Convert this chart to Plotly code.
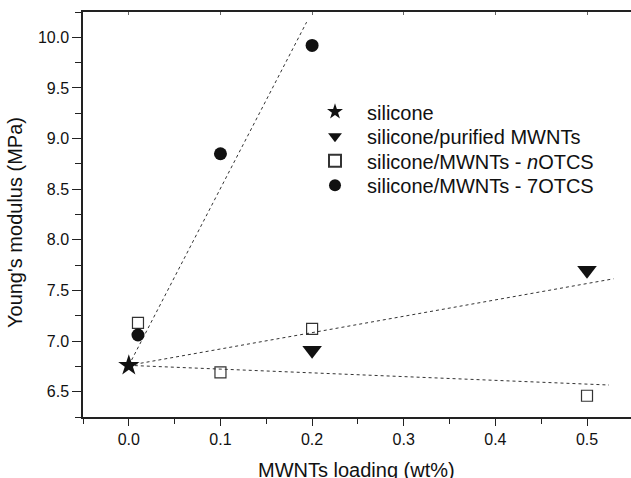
import plotly.graph_objects as go

# ---- data ----
silicone_x = [0.0]
silicone_y = [6.76]

purified_x = [0.2, 0.5]
purified_y = [6.91, 7.70]

notcs_x = [0.01, 0.1, 0.2, 0.5]
notcs_y = [7.18, 6.69, 7.12, 6.46]

otcs7_x = [0.01, 0.1, 0.2]
otcs7_y = [7.06, 8.85, 9.92]

# fitted trend lines (end points)
fit_7otcs_x = [0.0, 0.194]
fit_7otcs_y = [6.76, 10.15]
fit_purified_x = [0.0, 0.529]
fit_purified_y = [6.76, 7.615]
fit_notcs_x = [0.0, 0.524]
fit_notcs_y = [6.76, 6.566]

x_tick_vals = [0.0, 0.1, 0.2, 0.3, 0.4, 0.5]
x_tick_text = ["0.0", "0.1", "0.2", "0.3", "0.4", "0.5"]
y_tick_vals = [6.5, 7.0, 7.5, 8.0, 8.5, 9.0, 9.5, 10.0]
y_tick_text = ["6.5", "7.0", "7.5", "8.0", "8.5", "9.0", "9.5", "10.0"]

legend_names = ["silicone", "silicone/purified MWNTs",
                "silicone/MWNTs - <i>n</i>OTCS", "silicone/MWNTs - 7OTCS"]

FONT = "Liberation Sans, Arial, Helvetica, sans-serif"
INK = "#111111"
AX = "#222222"

fig = go.Figure()

line_style = dict(color="#333333", width=1, dash="dot")
for fx, fy in [(fit_7otcs_x, fit_7otcs_y), (fit_purified_x, fit_purified_y),
               (fit_notcs_x, fit_notcs_y)]:
    fig.add_trace(go.Scatter(x=fx, y=fy, mode="lines", line=line_style,
                             showlegend=False, hoverinfo="skip"))

fig.add_trace(go.Scatter(x=silicone_x, y=silicone_y, mode="markers",
                         name=legend_names[0], legend="legend",
                         marker=dict(symbol="star", size=16, color=INK,
                                     line=dict(width=0))))
fig.add_trace(go.Scatter(x=purified_x, y=purified_y, mode="markers",
                         name=legend_names[1], legend="legend2",
                         marker=dict(symbol="triangle-down", size=17, color=INK,
                                     line=dict(width=0))))
fig.add_trace(go.Scatter(x=notcs_x, y=notcs_y, mode="markers",
                         name=legend_names[2], legend="legend3",
                         marker=dict(symbol="square-open", size=11, color="#333333",
                                     line=dict(width=1.2))))
fig.add_trace(go.Scatter(x=otcs7_x, y=otcs7_y, mode="markers",
                         name=legend_names[3], legend="legend4",
                         marker=dict(symbol="circle", size=13, color=INK,
                                     line=dict(width=0))))

# invisible trace for top-axis inner ticks
fig.add_trace(go.Scatter(x=[0.0], y=[6.76], xaxis="x2", mode="markers",
                         marker=dict(opacity=0), showlegend=False,
                         hoverinfo="skip"))

PL, PB, PW, PH = 83, 417, 548, 405


def legend_at(center_y):
    return dict(x=(303 - PL) / PW, y=(PB - center_y) / PH,
                xanchor="left", yanchor="middle",
                bgcolor="rgba(0,0,0,0)", borderwidth=0,
                font=dict(size=20, family=FONT, color=INK),
                itemwidth=54, itemsizing="constant")


fig.update_layout(
    width=631, height=478,
    margin=dict(l=PL, r=0, t=12, b=61, autoexpand=False),
    paper_bgcolor="white", plot_bgcolor="white",
    font=dict(family=FONT, color=INK),
    xaxis=dict(range=[-0.05, 0.548], tickvals=x_tick_vals, ticktext=x_tick_text,
               automargin=False,
               ticks="outside", ticklen=7, tickwidth=1.2, tickcolor=AX,
               showline=True, linewidth=1.5, linecolor=AX, mirror=True,
               showgrid=False, zeroline=False,
               tickfont=dict(size=16, family=FONT, color=INK),
               minor=dict(dtick=0.05, tick0=0, ticks="outside", ticklen=5,
                          tickwidth=1.2, tickcolor=AX, showgrid=False)),
    xaxis2=dict(overlaying="x", side="top", matches="x", automargin=False,
                tickvals=x_tick_vals, showticklabels=False,
                ticks="inside", ticklen=3, tickwidth=1, tickcolor="#666666",
                showline=False, showgrid=False, zeroline=False),
    yaxis=dict(range=[6.25, 10.25], tickvals=y_tick_vals, ticktext=y_tick_text,
               automargin=False,
               ticks="outside", ticklen=9, tickwidth=1.2, tickcolor=AX,
               showline=True, linewidth=1.5, linecolor=AX, mirror=False,
               showgrid=False, zeroline=False,
               tickfont=dict(size=16, family=FONT, color=INK),
               minor=dict(dtick=0.25, tick0=6.25, ticks="outside", ticklen=6,
                          tickwidth=1.2, tickcolor=AX, showgrid=False)),
    legend=legend_at(111.7),
    legend2=legend_at(136.3),
    legend3=legend_at(160.8),
    legend4=legend_at(185.3),
    annotations=[
        dict(text="MWNTs loading (wt%)", xref="paper", yref="paper",
             x=0.499, y=-(457 - 417) / 405, xanchor="center", yanchor="top",
             showarrow=False, font=dict(size=20, family=FONT, color=INK)),
        dict(text="Young's modulus (MPa)", xref="paper", yref="paper",
             x=-(83 - 15) / 548, y=(417 - 223) / 405, xanchor="center", yanchor="middle",
             textangle=-90, showarrow=False,
             font=dict(size=20, family=FONT, color=INK)),
    ],
)

fig.write_html("out.html", config={"displayModeBar": False},
               post_script="document.body.style.margin='0';document.body.style.overflow='hidden';")
